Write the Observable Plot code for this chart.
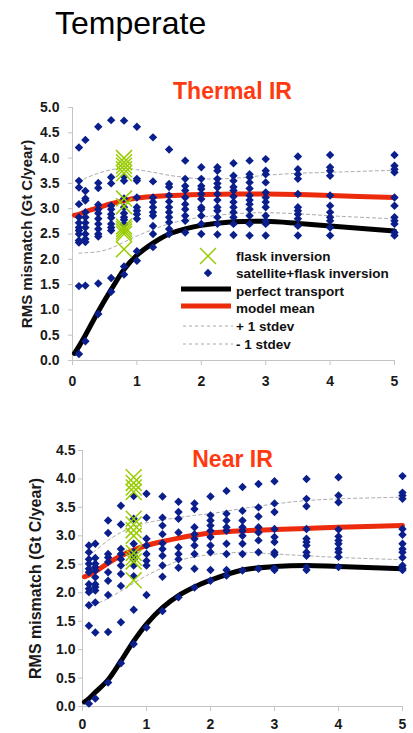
<!DOCTYPE html>
<html>
<head>
<meta charset="utf-8">
<script src="https://cdn.jsdelivr.net/npm/d3@7"></script>
<script src="https://cdn.jsdelivr.net/npm/@observablehq/plot@0.6"></script>
<style>
  html, body { margin: 0; padding: 0; background: #fff; }
  #wrap { position: relative; width: 413px; height: 733px; overflow: hidden; font-family: "Liberation Sans", Arial, sans-serif; }
  #wrap svg { position: absolute; left: 0; }
</style>
</head>
<body>
<div id="wrap"></div>
<script>
// ---------- data ----------
const pageTitle = "Temperate";
const panelTitles = ["Thermal IR", "Near IR"];
const yLabel = "RMS mismatch (Gt C/year)";
const legendLabels = ["flask inversion", "satellite+flask inversion", "perfect transport", "model mean", "+ 1 stdev", "- 1 stdev"];

const xTicks = [0, 1, 2, 3, 4, 5];
const yTicksThermal = [0, 0.5, 1, 1.5, 2, 2.5, 3, 3.5, 4, 4.5, 5];
const yTicksNear = [0, 0.5, 1, 1.5, 2, 2.5, 3, 3.5, 4, 4.5];

// x positions of the satellite+flask inversion columns
const xCols = [0.1, 0.2, 0.4, 0.6, 0.8, 1, 1.25, 1.5, 1.75, 2, 2.25, 2.5, 2.75, 3, 3.5, 4, 5];

const thermalSat = [
  [4.21, 3.55, 3.42, 3.09, 2.83, 2.72, 2.63, 2.57, 2.5, 2.37, 2.33, 1.47, 0.13],
  [4.36, 3.35, 3.2, 3.16, 2.93, 2.83, 2.72, 2.63, 2.5, 2.4, 2.34, 1.48, 0.38],
  [4.62, 3.51, 3.41, 3.08, 2.99, 2.91, 2.8, 2.7, 2.6, 2.5, 2.45, 1.52, 0.92],
  [4.75, 3.62, 3.5, 3.06, 2.99, 2.89, 2.82, 2.7, 2.63, 2.57, 1.63, 1.36],
  [4.74, 3.63, 3.55, 3.2, 3.03, 2.91, 2.83, 2.78, 2.7, 1.86, 1.7],
  [4.62, 3.59, 3.55, 3.22, 3.03, 2.96, 2.89, 2.8, 2.16, 1.97],
  [4.41, 3.54, 3.22, 3.13, 3.03, 2.93, 2.86, 2.66, 2.5, 2.24],
  [4.17, 3.49, 3.43, 3.26, 3.14, 3.03, 2.93, 2.83, 2.73, 2.6, 2.5],
  [3.95, 3.59, 3.45, 3.36, 3.22, 3.09, 2.99, 2.86, 2.76, 2.53],
  [3.82, 3.59, 3.45, 3.39, 3.29, 3.19, 3.03, 2.99, 2.86, 2.7, 2.5],
  [3.82, 3.75, 3.59, 3.5, 3.42, 3.29, 3.17, 3.03, 2.96, 2.83, 2.7, 2.49],
  [3.9, 3.65, 3.55, 3.43, 3.36, 3.24, 3.13, 3.03, 2.93, 2.83, 2.7, 2.48],
  [3.95, 3.68, 3.62, 3.52, 3.4, 3.26, 3.17, 3.09, 2.99, 2.86, 2.7, 2.47],
  [3.98, 3.75, 3.68, 3.52, 3.32, 3.22, 3.13, 3.03, 2.86, 2.76, 2.7, 2.47],
  [4.03, 3.78, 3.68, 3.59, 3.29, 3.03, 2.96, 2.89, 2.8, 2.66, 2.47],
  [4.06, 3.82, 3.75, 3.65, 3.26, 3.06, 2.93, 2.83, 2.76, 2.63, 2.47],
  [4.06, 3.85, 3.78, 3.72, 3.22, 3.06, 2.83, 2.76, 2.7, 2.53, 2.47]
];

const nearSat = [
  [2.83, 2.71, 2.59, 2.51, 2.42, 2.36, 2.15, 2.07, 2.01, 1.78, 1.42, 0.05],
  [2.86, 2.61, 2.51, 2.45, 2.39, 2.27, 2.15, 2.1, 2.04, 1.83, 1.3, 0.14],
  [3.27, 3.05, 2.68, 2.62, 2.54, 2.36, 2.21, 1.96, 1.31, 0.42],
  [3.53, 3.2, 2.77, 2.68, 2.59, 2.48, 2.33, 2.12, 1.48, 0.76],
  [3.7, 3.3, 2.86, 2.71, 2.65, 2.59, 2.48, 2.29, 1.7, 1.1],
  [3.74, 3.32, 2.95, 2.83, 2.68, 2.56, 2.48, 1.96, 1.39],
  [3.69, 3.32, 3.18, 3.03, 2.87, 2.77, 2.65, 2.48, 2.28, 1.68],
  [3.6, 3.42, 3.3, 3.06, 2.8, 2.68, 2.59, 2.44, 1.92],
  [3.57, 3.47, 3.15, 3.03, 2.95, 2.83, 2.68, 2.42, 2.09],
  [3.69, 3.36, 3.27, 3.18, 3.09, 2.98, 2.83, 2.71, 2.4, 2.21],
  [3.79, 3.39, 3.27, 3.15, 3.09, 2.86, 2.68, 2.4, 2.3],
  [3.86, 3.44, 3.27, 3.15, 3.09, 3.0, 2.86, 2.68, 2.39],
  [3.91, 3.5, 3.34, 3.15, 3.06, 2.92, 2.71, 2.42],
  [3.96, 3.57, 3.42, 3.12, 2.98, 2.89, 2.71, 2.67, 2.43, 2.4],
  [4.0, 3.65, 3.52, 3.12, 2.95, 2.89, 2.83, 2.71, 2.65, 2.45, 2.4],
  [4.03, 3.71, 3.59, 3.11, 2.99, 2.92, 2.86, 2.77, 2.71, 2.63, 2.45],
  [4.05, 3.76, 3.71, 3.65, 3.12, 3.02, 2.86, 2.77, 2.71, 2.62, 2.48, 2.43, 2.4]
];

// flask inversion (all at one x)
const flaskX = 0.8;
const thermalFlask = [4.0, 3.92, 3.85, 3.78, 3.7, 3.2, 3.05, 2.65, 2.6, 2.55, 2.5, 2.2];
const nearFlask = [4.03, 3.93, 3.85, 3.77, 3.3, 3.2, 3.1, 3.0, 2.7, 2.62, 2.55, 2.22];

// curves
const curveX = [0.03, 0.1, 0.2, 0.4, 0.6, 0.8, 1.0, 1.25, 1.5, 1.75, 2.0, 2.5, 3.0, 3.5, 4.0, 5.0];
const thermalPerfect = [0.14, 0.28, 0.5, 0.97, 1.4, 1.8, 2.08, 2.32, 2.5, 2.6, 2.67, 2.74, 2.75, 2.71, 2.66, 2.56];
const thermalMean    = [2.87, 2.89, 2.94, 3.02, 3.1, 3.16, 3.21, 3.24, 3.26, 3.27, 3.28, 3.29, 3.29, 3.28, 3.26, 3.22];
const thermalPlus    = [NaN, 3.52, 3.6, 3.7, 3.77, 3.8, 3.77, 3.72, 3.66, 3.62, 3.59, 3.6, 3.66, 3.7, 3.72, 3.76];
const thermalMinus   = [NaN, 2.12, 2.13, 2.15, 2.22, 2.34, 2.46, 2.59, 2.7, 2.78, 2.83, 2.9, 2.92, 2.9, 2.86, 2.8];
const nearPerfect    = [0.08, 0.14, 0.25, 0.47, 0.8, 1.15, 1.45, 1.74, 1.95, 2.1, 2.22, 2.4, 2.46, 2.48, 2.46, 2.42];
const nearMean       = [2.28, 2.31, 2.37, 2.52, 2.65, 2.75, 2.83, 2.9, 2.96, 3.01, 3.05, 3.09, 3.11, 3.13, 3.15, 3.18];
const nearPlus       = [NaN, 2.65, 2.74, 2.92, 3.06, 3.17, 3.23, 3.28, 3.32, 3.36, 3.39, 3.48, 3.56, 3.62, 3.65, 3.68];
const nearMinus      = [NaN, 1.72, 1.79, 1.9, 2.03, 2.17, 2.3, 2.44, 2.56, 2.63, 2.67, 2.71, 2.68, 2.65, 2.62, 2.58];

// ---------- styles ----------
const FONT = '"Liberation Sans", Arial, sans-serif';
const NAVY = "#0a1e8c";
const LIME = "#99cc00";
const RED = "#ec2b0c";
const TITLE_RED = "#ff3a10";
const AXIS_GRAY = "#c4c4c4";
const DASH_GRAY = "#a8a8a8";

function toPoints(cols, vals) {
  return cols.flatMap((x, i) => vals[i].map(y => ({x, y})));
}
function toCurve(ys) {
  return curveX.map((x, i) => ({x, y: ys[i]})).filter(d => Number.isFinite(d.y));
}

function panel(cfg) {
  const sat = toPoints(xCols, cfg.sat);
  const flask = cfg.flask.map(y => ({x: flaskX, y}));
  return Plot.plot({
    width: 413,
    height: cfg.height,
    marginLeft: cfg.ml, marginRight: cfg.mr, marginTop: cfg.mt, marginBottom: cfg.mb,
    style: {fontFamily: FONT, background: "transparent", overflow: "visible"},
    x: {domain: [0, 5]},
    y: {domain: [0, cfg.yMax]},
    marks: [
      Plot.ruleX([0], {stroke: AXIS_GRAY, strokeWidth: 1}),
      Plot.ruleY([0], {stroke: AXIS_GRAY, strokeWidth: 1}),
      Plot.axisY({ticks: cfg.yTicks, tickSize: 4, tickPadding: cfg.yPad, tickFormat: d => d.toFixed(1),
        stroke: AXIS_GRAY, fill: "#1a1a1a", fontWeight: "bold", fontSize: 14, label: null}),
      Plot.axisX({ticks: xTicks, tickSize: 5, tickPadding: cfg.xPad, tickFormat: d => String(d),
        stroke: AXIS_GRAY, fill: "#1a1a1a", fontWeight: "bold", fontSize: 14, label: null}),
      Plot.line(toCurve(cfg.plus), {x: "x", y: "y", stroke: DASH_GRAY, strokeWidth: 1, strokeDasharray: "3,3", curve: "catmull-rom"}),
      Plot.line(toCurve(cfg.minus), {x: "x", y: "y", stroke: DASH_GRAY, strokeWidth: 1, strokeDasharray: "3,3", curve: "catmull-rom"}),
      Plot.line(toCurve(cfg.perfect), {x: "x", y: "y", stroke: "#000", strokeWidth: 5, curve: "catmull-rom"}),
      Plot.line(toCurve(cfg.mean), {x: "x", y: "y", stroke: RED, strokeWidth: 5, curve: "catmull-rom"}),
      Plot.dot(sat, {x: "x", y: "y", symbol: "diamond2", r: 3.8, fill: NAVY, stroke: "none"}),
      Plot.dot(flask, {x: "x", y: "y", symbol: "times", r: 7.3, stroke: LIME, strokeWidth: 1.5}),
      Plot.text([yLabel], {text: d => d, frameAnchor: "left", textAnchor: "middle", lineAnchor: "middle",
        dx: cfg.labelDx, rotate: -90, fontWeight: "bold", fontSize: cfg.labelSize, fill: "#1a1a1a"}),
      Plot.text([cfg.title], {text: d => d, frameAnchor: "top", textAnchor: "middle", lineAnchor: "bottom",
        dx: cfg.titleDx, dy: cfg.titleDy, fontWeight: "bold", fontSize: 23, fill: TITLE_RED})
    ]
  });
}

const wrap = document.getElementById("wrap");

const topPanel = panel({
  sat: thermalSat, flask: thermalFlask, perfect: thermalPerfect, mean: thermalMean,
  plus: thermalPlus, minus: thermalMinus, title: panelTitles[0],
  height: 310, ml: 72, mr: 19, mt: 17, mb: 40, yMax: 5, yTicks: yTicksThermal, yPad: 9, xPad: 11,
  labelDx: -45, labelSize: 15, titleDx: -1, titleDy: -9
});
topPanel.style.top = "90px";
wrap.appendChild(topPanel);

const bottomPanel = panel({
  sat: nearSat, flask: nearFlask, perfect: nearPerfect, mean: nearMean,
  plus: nearPlus, minus: nearMinus, title: panelTitles[1],
  height: 303, ml: 82, mr: 11, mt: 20, mb: 27, yMax: 4.5, yTicks: yTicksNear, yPad: 3, xPad: 8,
  labelDx: -47, labelSize: 16, titleDx: -10, titleDy: 16
});
bottomPanel.style.top = "430px";
wrap.appendChild(bottomPanel);

// ---------- overlay: page title + legend ----------
const ov = d3.select(wrap).append("svg")
  .attr("width", 413).attr("height", 733)
  .style("top", "0px").style("pointer-events", "none")
  .attr("font-family", FONT);

ov.append("text").attr("x", 55).attr("y", 34).attr("font-size", 32).attr("fill", "#000").text(pageTitle);

const lg = ov.append("g");
lg.append("path").attr("d", d3.symbol(d3.symbolTimes, Math.PI * 7.3 * 7.3)()).attr("transform", "translate(208,256)")
  .attr("fill", "none").attr("stroke", LIME).attr("stroke-width", 1.5);
lg.append("path").attr("d", d3.symbol(d3.symbolDiamond2, Math.PI * 3.8 * 3.8)()).attr("transform", "translate(208,273)")
  .attr("fill", NAVY);
lg.append("line").attr("x1", 181).attr("x2", 231).attr("y1", 289).attr("y2", 289).attr("stroke", "#000").attr("stroke-width", 5);
lg.append("line").attr("x1", 181).attr("x2", 231).attr("y1", 306).attr("y2", 306).attr("stroke", RED).attr("stroke-width", 5);
lg.append("line").attr("x1", 183).attr("x2", 233).attr("y1", 326).attr("y2", 326).attr("stroke", DASH_GRAY).attr("stroke-dasharray", "3,3");
lg.append("line").attr("x1", 183).attr("x2", 233).attr("y1", 344).attr("y2", 344).attr("stroke", DASH_GRAY).attr("stroke-dasharray", "3,3");
const baselines = [261, 278.3, 295.7, 313.3, 331, 348.7];
legendLabels.forEach((t, i) => {
  lg.append("text").attr("x", 236).attr("y", baselines[i]).attr("font-size", 13.5).attr("font-weight", "bold")
    .attr("fill", "#111").text(t);
});
</script>
</body>
</html>
